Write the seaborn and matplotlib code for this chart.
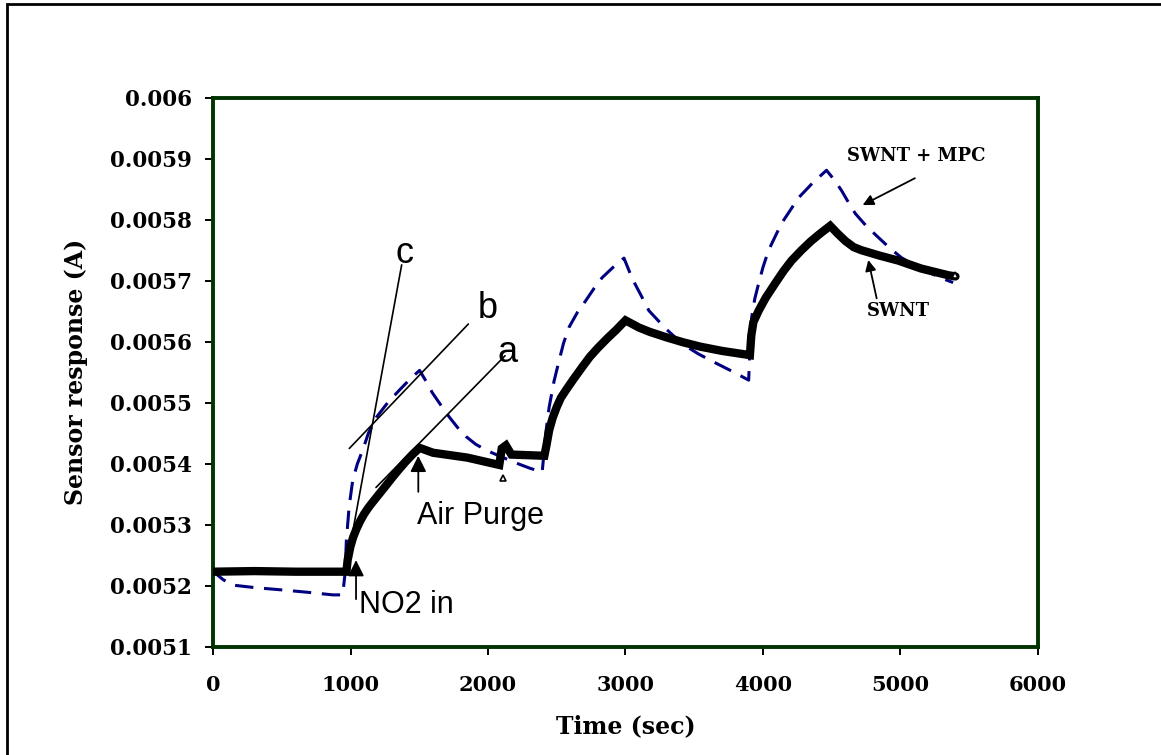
import pandas as pd
import matplotlib.pyplot as plt
import seaborn as sns
from matplotlib.patches import Rectangle

# SWNT (thick black trace)
swnt_time = [0, 300, 600, 970, 979, 1000, 1020, 1043, 1070, 1100, 1130, 1161, 1200,
             1250, 1306, 1350, 1400, 1450, 1502, 1600, 1850, 2082, 2100, 2130, 2170,
             2410, 2425, 2445, 2470, 2500, 2530, 2568, 2620, 2684, 2740, 2800, 2870,
             2931, 3000, 3050, 3100, 3178, 3300, 3420, 3542, 3700, 3905, 3915, 3930,
             3969, 4020, 4090, 4150, 4208, 4280, 4350, 4420, 4489, 4540, 4600, 4660,
             4716, 4850, 4984, 5150, 5347, 5400]
swnt_resp = [0.005223, 0.005224, 0.005223, 0.005223, 0.005242, 0.005265, 0.005280,
             0.005293, 0.005306, 0.005318, 0.005328, 0.005337, 0.005348, 0.005362,
             0.005378, 0.005390, 0.005403, 0.005415, 0.005426, 0.005418, 0.005410,
             0.005398, 0.005425, 0.005430, 0.005415, 0.005413, 0.005430, 0.005455,
             0.005475, 0.005493, 0.005508, 0.005521, 0.005538, 0.005558, 0.005575,
             0.005590, 0.005606, 0.005619, 0.005635, 0.005629, 0.005623, 0.005616,
             0.005607, 0.005599, 0.005592, 0.005585, 0.005578, 0.005610, 0.005632,
             0.005651, 0.005672, 0.005696, 0.005716, 0.005733, 0.005750, 0.005765,
             0.005778, 0.005790, 0.005778, 0.005765, 0.005755, 0.005750, 0.005741,
             0.005733, 0.005720, 0.005709, 0.005707]

# SWNT + MPC (blue dashed trace)
mpc_time = [0, 30, 73, 145, 300, 508, 700, 871, 943, 960, 970, 990, 1016, 1050, 1088,
            1130, 1188, 1270, 1357, 1430, 1502, 1550, 1596, 1660, 1720, 1780, 1843,
            1910, 1988, 2100, 2206, 2300, 2394, 2420, 2445, 2480, 2518, 2550, 2590,
            2650, 2713, 2770, 2830, 2910, 2989, 3050, 3120, 3170, 3290, 3410, 3530,
            3657, 3780, 3896, 3905, 3918, 3940, 3969, 4000, 4041, 4090, 4135, 4200,
            4259, 4360, 4462, 4520, 4571, 4620, 4672, 4750, 4839, 4920, 5006, 5110,
            5224, 5300, 5383]
mpc_resp = [0.005229, 0.005218, 0.005210, 0.005201, 0.005197, 0.005193, 0.005189,
            0.005185, 0.005185, 0.005220, 0.005275, 0.005330, 0.005373, 0.005400,
            0.005422, 0.005450, 0.005476, 0.005500, 0.005521, 0.005538, 0.005553,
            0.005535, 0.005516, 0.005495, 0.005476, 0.005459, 0.005444, 0.005432,
            0.005422, 0.005411, 0.005401, 0.005393, 0.005386, 0.005450, 0.005493,
            0.005535, 0.005570, 0.005598, 0.005624, 0.005648, 0.005668, 0.005687,
            0.005705, 0.005722, 0.005737, 0.005703, 0.005673, 0.005651, 0.005622,
            0.005597, 0.005580, 0.005565, 0.005551, 0.005537, 0.005590, 0.005640,
            0.005670, 0.005696, 0.005722, 0.005750, 0.005773, 0.005794, 0.005816,
            0.005836, 0.005860, 0.005881, 0.005865, 0.005848, 0.005829, 0.005810,
            0.005790, 0.005771, 0.005754, 0.005738, 0.005724, 0.005712, 0.005704,
            0.005697]

x_ticks = [0, 1000, 2000, 3000, 4000, 5000, 6000]
y_ticks = [0.0051, 0.0052, 0.0053, 0.0054, 0.0055, 0.0056, 0.0057, 0.0058, 0.0059, 0.006]
y_tick_labels = ["0.0051", "0.0052", "0.0053", "0.0054", "0.0055", "0.0056",
                 "0.0057", "0.0058", "0.0059", "0.006"]

# guide lines a, b, c  (start, end)
guide_a = [(1185, 0.005361), (2124, 0.005577)]
guide_b = [(991, 0.005425), (1857, 0.005629)]
guide_c = [(1018, 0.005291), (1372, 0.005726)]

sns.set_style("ticks")
plt.rcParams['font.family'] = ['DejaVu Serif']
plt.rcParams['text.color'] = 'black'
plt.rcParams['axes.labelcolor'] = 'black'
plt.rcParams['xtick.color'] = 'black'
plt.rcParams['ytick.color'] = 'black'

fig = plt.figure(figsize=(11.61, 7.55), dpi=100)
ax = fig.add_axes([0.1835, 0.1434, 0.7105, 0.7272])

swnt_df = pd.DataFrame({"t": swnt_time, "r": swnt_resp})
mpc_df = pd.DataFrame({"t": mpc_time, "r": mpc_resp})

sns.lineplot(data=mpc_df, x="t", y="r", sort=False, estimator=None, ax=ax,
             color="#000080", linewidth=2.2, linestyle=(0, (6, 3.5)), zorder=3)
sns.lineplot(data=swnt_df, x="t", y="r", sort=False, estimator=None, ax=ax,
             color="black", linewidth=6, zorder=4, solid_joinstyle="miter")

for seg in (guide_a, guide_b, guide_c):
    ax.plot([seg[0][0], seg[1][0]], [seg[0][1], seg[1][1]], color="black", lw=1.2, zorder=5)

sans = ["Liberation Sans", "DejaVu Sans"]
ax.text(1396, 0.005745, "c", fontsize=26, family=sans, ha="center", va="center")
ax.text(2000, 0.005654, "b", fontsize=26, family=sans, ha="center", va="center")
ax.text(2145, 0.005583, "a", fontsize=26, family=sans, ha="center", va="center")

arrow = dict(arrowstyle="-|>", color="black", lw=1.3, mutation_scale=24, shrinkA=0, shrinkB=0)
ax.annotate("", xy=(1493, 0.005413), xytext=(1493, 0.005354), arrowprops=arrow, zorder=6)
ax.text(1482, 0.005302, "Air Purge", fontsize=22, family=sans, ha="left", va="baseline")
ax.annotate("", xy=(1040, 0.005242), xytext=(1040, 0.005178), arrowprops=arrow, zorder=6)
ax.text(1064, 0.005155, "NO2 in", fontsize=22, family=sans, ha="left", va="baseline")

small_arrow = dict(arrowstyle="-|>", color="black", lw=1.3, mutation_scale=16, shrinkA=0, shrinkB=0)
ax.annotate("", xy=(4725, 0.005824), xytext=(5105, 0.005868), arrowprops=small_arrow)
ax.text(5118, 0.005904, "SWNT + MPC", fontsize=13, fontweight="bold", ha="center", va="center")
ax.annotate("", xy=(4766, 0.005734), xytext=(4827, 0.005671), arrowprops=small_arrow)
ax.text(4984, 0.005651, "SWNT", fontsize=13, fontweight="bold", ha="center", va="center")

ax.plot([2109, 5396], [0.005377, 0.005709], linestyle="none", marker="^", ms=5,
        mfc="white", mec="black", mew=1.2, zorder=6)

ax.set_xlim(0, 6000)
ax.set_ylim(0.0051, 0.006)
ax.set_xticks(x_ticks)
ax.set_xticklabels([str(v) for v in x_ticks])
ax.set_yticks(y_ticks)
ax.set_yticklabels(y_tick_labels)
ax.tick_params(axis="x", direction="out", length=6, width=1.4, color="black",
               labelsize=15, pad=14)
ax.tick_params(axis="y", direction="out", length=6, width=1.4, color="black",
               labelsize=15.5, pad=9)
for lab in ax.get_xticklabels() + ax.get_yticklabels():
    lab.set_fontweight("bold")

for side in ["top", "right", "bottom", "left"]:
    ax.spines[side].set_visible(True)
    ax.spines[side].set_color("#003300")
    ax.spines[side].set_linewidth(2.8)

ax.set_xlabel("Time (sec)", fontsize=17, fontweight="bold", labelpad=14)
ax.set_ylabel("Sensor response (A)", fontsize=17, fontweight="bold", labelpad=16)

fig.patches.append(Rectangle((7 / 1161, -0.05), 1.2, (755 - 4) / 755 + 0.05,
                             transform=fig.transFigure, fill=False,
                             edgecolor="black", linewidth=2))

fig.savefig("out.png", dpi=100)
